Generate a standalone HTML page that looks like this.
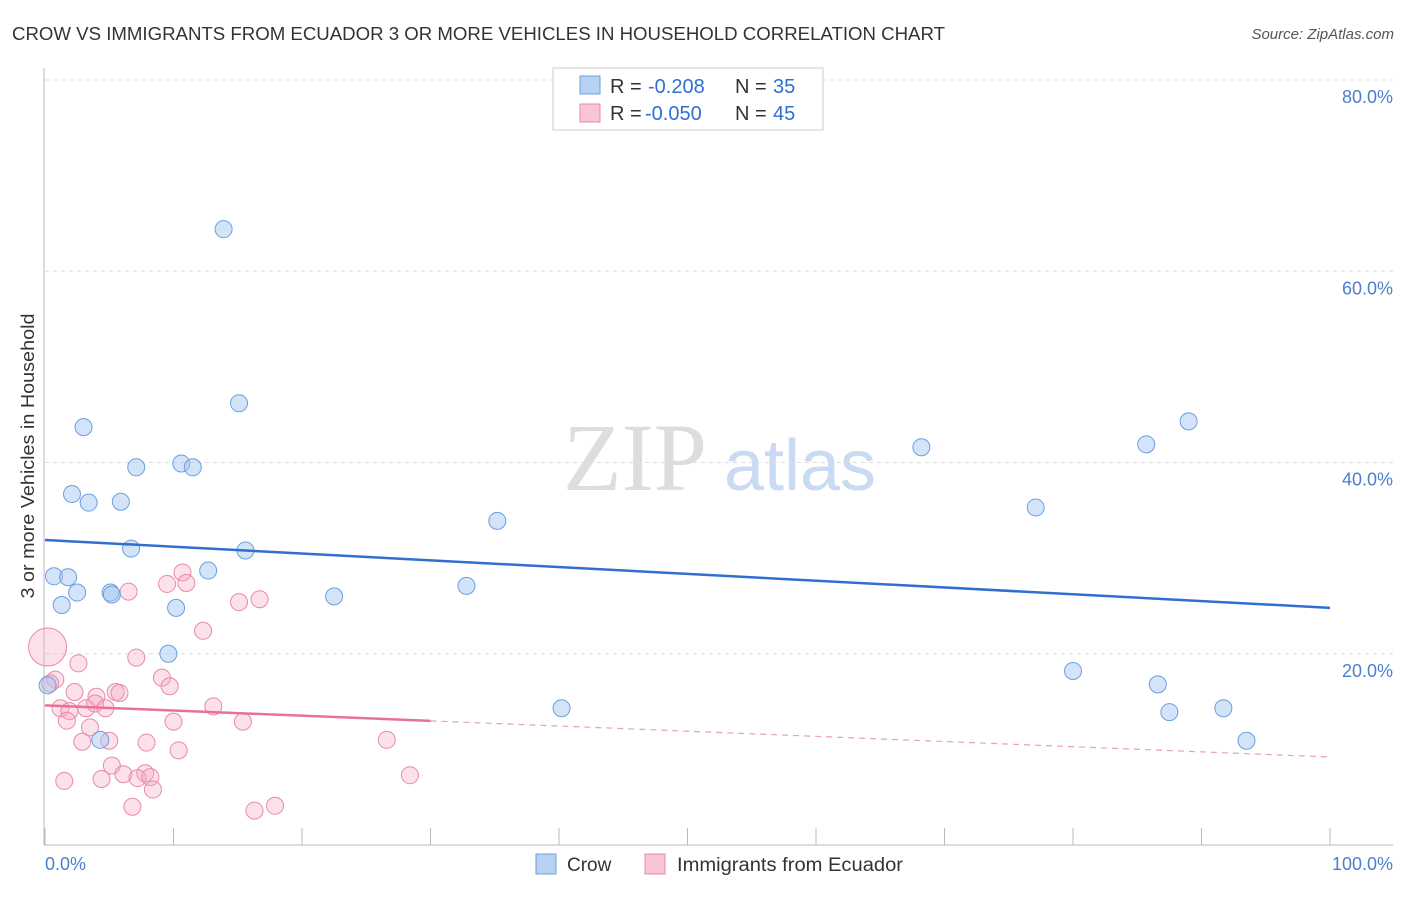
<!DOCTYPE html>
<html><head><meta charset="utf-8"><style>
body{margin:0;background:#fff;font-family:"Liberation Sans",sans-serif;}
</style></head><body>
<svg width="1406" height="892" xmlns="http://www.w3.org/2000/svg" font-family="Liberation Sans, sans-serif">
<text x="12" y="40" font-size="18" fill="#333" textLength="933" lengthAdjust="spacingAndGlyphs">CROW VS IMMIGRANTS FROM ECUADOR 3 OR MORE VEHICLES IN HOUSEHOLD CORRELATION CHART</text>
<text x="1394" y="39" font-size="15" fill="#555" text-anchor="end" font-style="italic">Source: ZipAtlas.com</text>
<text x="635" y="490" font-size="96" fill="#ddd" font-family="Liberation Serif, serif" text-anchor="middle">ZIP</text>
<text x="800" y="490" font-size="72" fill="#c9daf2" text-anchor="middle">atlas</text>
<g id="grid"></g>
<g id="axes"></g>
<g id="marks"></g>
<text transform="translate(34,456) rotate(-90)" font-size="18" fill="#333" text-anchor="middle" textLength="285" lengthAdjust="spacingAndGlyphs">3 or more Vehicles in Household</text>
<text x="45" y="870" font-size="18" fill="#4a7fd0">0.0%</text>
<text x="1393" y="870" font-size="18" fill="#4a7fd0" text-anchor="end">100.0%</text>
<g>
<rect x="553" y="68" width="270" height="62" fill="#fff" stroke="#ccc"/>
<rect x="580" y="76" width="20" height="18" fill="#b8d2f4" stroke="#6a9fe0"/>
<rect x="580" y="104" width="20" height="18" fill="#f9c5d5" stroke="#e88aa8"/>
<text x="610" y="93" font-size="20" fill="#333">R = </text><text x="648" y="93" font-size="20" fill="#2f6fd0">-0.208</text><text x="735" y="93" font-size="20" fill="#333">N = </text><text x="773" y="93" font-size="20" fill="#2f6fd0">35</text>
<text x="610" y="120" font-size="20" fill="#333">R = </text><text x="645" y="120" font-size="20" fill="#2f6fd0">-0.050</text><text x="735" y="120" font-size="20" fill="#333">N = </text><text x="773" y="120" font-size="20" fill="#2f6fd0">45</text>
</g>
<g>
<rect x="536" y="854" width="20" height="20" fill="#b8d2f4" stroke="#6a9fe0"/>
<text x="567" y="871" font-size="19" fill="#333">Crow</text>
<rect x="645" y="854" width="20" height="20" fill="#f9c5d5" stroke="#e88aa8"/>
<text x="677" y="871" font-size="19" fill="#333" textLength="226" lengthAdjust="spacingAndGlyphs">Immigrants from Ecuador</text>
</g>
</svg>
<script>
const yTicks=[20,40,60,80];
const yTickLabels=["20.0%","40.0%","60.0%","80.0%"];
const crowX=[13.9,15.1,3.0,7.1,10.6,11.5,2.1,3.4,5.9,35.2,6.7,15.6,0.7,1.8,12.7,2.5,5.1,5.2,1.3,10.2,32.8,22.5,9.6,0.2,4.3,40.2,68.2,85.7,89.0,77.1,80.0,86.6,87.5,91.7,93.5];
const crowY=[64.4,46.2,43.7,39.5,39.9,39.5,36.7,35.8,35.9,33.9,31.0,30.8,28.1,28.0,28.7,26.4,26.4,26.2,25.1,24.8,27.1,26.0,20.0,16.7,11.0,14.3,41.6,41.9,44.3,35.3,18.2,16.8,13.9,14.3,10.9];
const ecuX=[10.7,9.5,11.0,6.5,15.1,16.7,12.3,0.2,2.6,7.1,0.8,0.4,2.3,9.1,9.7,5.5,5.8,4.0,1.2,1.9,3.2,3.9,4.7,1.7,13.1,10.0,15.4,3.5,2.9,5.0,7.9,10.4,26.6,5.2,6.1,7.8,7.2,8.2,8.4,1.5,4.4,28.4,6.8,16.3,17.9];
const ecuY=[28.5,27.3,27.4,26.5,25.4,25.7,22.4,20.7,19.0,19.6,17.3,16.9,16.0,17.5,16.6,16.0,15.9,15.5,14.3,14.0,14.3,14.8,14.3,13.0,14.5,12.9,12.9,12.3,10.8,10.9,10.7,9.9,11.0,8.3,7.4,7.5,7.0,7.1,5.8,6.7,6.9,7.3,4.0,3.6,4.1];
const crowTrend=[31.9,24.8];
const ecuTrend=[14.6,9.2];
const ecuSolidEnd=30;
const NS="http://www.w3.org/2000/svg";
const X=v=>45+v*12.85, Y=v=>845-v*9.5625;
function mk(t,a,p){const e=document.createElementNS(NS,t);for(const k in a)e.setAttribute(k,a[k]);p.appendChild(e);return e;}
const grid=document.getElementById('grid'),axes=document.getElementById('axes'),marks=document.getElementById('marks');
yTicks.forEach((t,i)=>{
 const l=mk('line',{x1:45,x2:1393,y1:Y(t),y2:Y(t),stroke:'#ddd','stroke-dasharray':'4,4'},grid);
 
 
 const tx=mk('text',{x:1393,y:Y(t)+23,'font-size':18,fill:'#4a7fd0','text-anchor':'end'},grid);
 tx.textContent=yTickLabels[i];
 
 
});
let a=mk('line',{x1:44,x2:44,y1:68,y2:845,stroke:'#bbb'},axes);


a=mk('line',{x1:44,x2:1393,y1:845,y2:845,stroke:'#bbb'},axes);


for(let i=0;i<=10;i++){const t=mk('line',{x1:X(i*10),x2:X(i*10),y1:828,y2:845,stroke:'#bbb'},axes);
 
 }
ecuX.forEach((x,i)=>{const c=mk('circle',{cx:X(x),cy:Y(ecuY[i]),r:i==7?19:8.5,fill:'rgba(245,170,195,0.35)',stroke:'#e88aa8','stroke-width':1},marks);
 
 });
crowX.forEach((x,i)=>{const c=mk('circle',{cx:X(x),cy:Y(crowY[i]),r:8.5,fill:'rgba(160,196,240,0.45)',stroke:'#6a9fe0','stroke-width':1},marks);
 
 });
let l=mk('line',{x1:X(0),y1:Y(crowTrend[0]),x2:X(100),y2:Y(crowTrend[1]),stroke:'#2f6fd0','stroke-width':2.5},marks);


const ey=x=>ecuTrend[0]+(ecuTrend[1]-ecuTrend[0])*x/100;
l=mk('line',{x1:X(0),y1:Y(ey(0)),x2:X(ecuSolidEnd),y2:Y(ey(ecuSolidEnd)),stroke:'#e8709a','stroke-width':2.5},marks);


l=mk('line',{x1:X(ecuSolidEnd),y1:Y(ey(ecuSolidEnd)),x2:X(100),y2:Y(ey(100)),stroke:'#e8a0b8','stroke-width':1.2,'stroke-dasharray':'6,5'},marks);


</script>
</body></html>
